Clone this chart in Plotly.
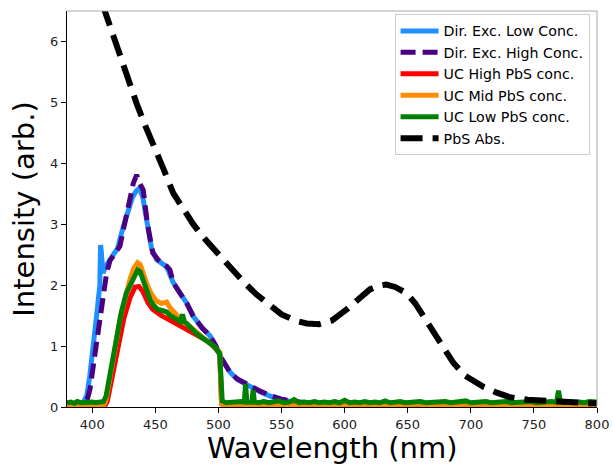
import plotly.graph_objects as go

# ---------------- data ----------------
# Direct excitation, low concentration
dir_low_wl = [380, 390, 393, 395.6, 398, 400.8, 404, 406, 406.6, 407.2, 408.5, 412, 416.7, 420, 424.6, 428, 432, 435, 437.3, 440, 443, 447, 451, 455, 459, 464, 469.5, 475, 480, 487, 493.3, 498, 501.2, 505, 509.2, 515, 525, 533, 541, 550, 560, 575, 600, 650, 700, 750, 800]
dir_low_y = [0.02, 0.03, 0.08, 0.18, 0.5, 0.95, 1.6, 2.0, 2.66, 2.55, 2.2, 2.35, 2.5, 2.6, 2.96, 3.2, 3.45, 3.55, 3.59, 3.45, 3.05, 2.6, 2.42, 2.35, 2.3, 2.05, 1.87, 1.7, 1.49, 1.3, 1.17, 1.0, 0.84, 0.7, 0.57, 0.45, 0.33, 0.25, 0.18, 0.12, 0.08, 0.05, 0.04, 0.03, 0.03, 0.02, 0.02]

# Direct excitation, high concentration
dir_high_wl = [380, 393, 396, 398.2, 401, 404.8, 408, 411.4, 414, 416.7, 419, 421.9, 424, 427.2, 430, 432.5, 435.2, 437, 440.4, 443.8, 448, 452, 456, 459, 461.6, 464.2, 469.5, 475, 480, 487, 493.3, 498, 501.2, 505, 509.2, 515, 525, 533, 541, 550, 560, 575, 600, 650, 700, 750, 800]
dir_high_y = [0.02, 0.05, 0.12, 0.29, 0.7, 1.22, 1.75, 2.2, 2.4, 2.47, 2.55, 2.64, 2.85, 3.13, 3.4, 3.67, 3.81, 3.7, 3.56, 3.0, 2.53, 2.42, 2.35, 2.31, 2.25, 2.04, 1.87, 1.7, 1.49, 1.3, 1.17, 1.0, 0.84, 0.7, 0.57, 0.46, 0.34, 0.26, 0.19, 0.13, 0.09, 0.06, 0.04, 0.03, 0.03, 0.02, 0.02]

# Upconversion, high PbS concentration
uc_high_wl = [380, 410, 412, 416, 420, 425, 430, 434, 437, 440, 444, 448, 455, 462, 470, 480, 490, 496, 501, 502.5, 505, 600, 700, 800]
uc_high_y = [0.02, 0.02, 0.1, 0.5, 0.95, 1.45, 1.8, 1.97, 1.98, 1.9, 1.72, 1.6, 1.5, 1.42, 1.35, 1.22, 1.1, 1.0, 0.88, 0.05, 0.02, 0.02, 0.02, 0.02]

# Upconversion, mid PbS concentration
uc_mid_wl = [380, 409, 411, 414, 418, 422, 426, 430, 433, 436, 438, 441, 444, 447, 451, 455, 459, 462, 466, 470, 475, 480, 486, 491, 496, 501, 502.5, 505, 600, 700, 800]
uc_mid_y = [0.02, 0.02, 0.12, 0.45, 0.95, 1.45, 1.8, 2.1, 2.28, 2.37, 2.34, 2.15, 1.98, 1.85, 1.74, 1.7, 1.72, 1.62, 1.52, 1.44, 1.36, 1.28, 1.17, 1.08, 1.0, 0.9, 0.05, 0.02, 0.02, 0.02, 0.02]

# Upconversion, low PbS concentration (noisy baseline)
uc_low_wl = [380, 383, 386, 388, 391, 394, 397, 400, 403, 406, 409, 411, 413, 415, 419, 423, 427, 430, 433, 436, 438, 440, 443, 446, 449, 452, 456, 459, 462, 466, 470, 471.5, 473, 474.5, 478, 482, 486, 490, 494, 498, 501, 502, 503, 506, 510, 514, 518, 520.5, 521.5, 522.5, 525, 526.5, 527.5, 528.5, 532, 536, 540, 544, 548, 552, 556, 560, 564, 568, 572, 576, 580, 584, 588, 592, 596, 600, 604, 608, 612, 616, 620, 624, 628, 632, 636, 640, 644, 648, 652, 656, 660, 664, 668, 672, 676, 680, 684, 688, 692, 696, 700, 704, 708, 712, 716, 720, 724, 728, 732, 736, 740, 744, 748, 752, 756, 760, 764, 768, 769.5, 771, 774, 778, 782, 786, 790, 794, 798, 800]
uc_low_y = [0.07, 0.08, 0.06, 0.09, 0.07, 0.08, 0.07, 0.08, 0.07, 0.08, 0.09, 0.18, 0.4, 0.65, 1.17, 1.55, 1.87, 2.0, 2.12, 2.25, 2.22, 2.1, 1.93, 1.75, 1.66, 1.6, 1.58, 1.56, 1.5, 1.45, 1.4, 1.52, 1.4, 1.38, 1.3, 1.22, 1.15, 1.1, 1.04, 0.96, 0.88, 0.5, 0.1, 0.07, 0.08, 0.07, 0.09, 0.08, 0.38, 0.08, 0.07, 0.08, 0.28, 0.08, 0.07, 0.09, 0.07, 0.08, 0.1, 0.07, 0.08, 0.12, 0.07, 0.08, 0.07, 0.09, 0.07, 0.08, 0.07, 0.09, 0.07, 0.11, 0.07, 0.08, 0.07, 0.09, 0.07, 0.08, 0.07, 0.1, 0.07, 0.08, 0.09, 0.07, 0.08, 0.07, 0.09, 0.07, 0.08, 0.07, 0.08, 0.09, 0.07, 0.08, 0.07, 0.1, 0.07, 0.08, 0.07, 0.09, 0.07, 0.08, 0.07, 0.09, 0.07, 0.08, 0.07, 0.08, 0.09, 0.07, 0.08, 0.07, 0.09, 0.08, 0.27, 0.08, 0.07, 0.09, 0.07, 0.08, 0.07, 0.09, 0.07, 0.08]

# PbS absorption
pbs_wl = [400, 405, 410.1, 416, 422, 428, 435.2, 442, 449.7, 457, 464.2, 472, 480, 490, 500, 510, 520, 530, 541, 550, 562, 570, 580, 590, 601.6, 610, 620, 627, 633, 640, 649, 656, 662, 670, 680, 686, 695, 710, 720, 731, 745, 763, 780, 795, 800]
pbs_y = [7.1, 6.8, 6.48, 6.1, 5.74, 5.36, 4.98, 4.62, 4.27, 3.88, 3.51, 3.24, 3.0, 2.74, 2.5, 2.27, 2.05, 1.85, 1.66, 1.52, 1.41, 1.37, 1.36, 1.42, 1.6, 1.76, 1.93, 1.99, 2.01, 1.97, 1.87, 1.7, 1.5, 1.22, 0.93, 0.73, 0.52, 0.33, 0.24, 0.16, 0.12, 0.09, 0.07, 0.06, 0.06]

series_names = ["Dir. Exc. Low Conc.", "Dir. Exc. High Conc.", "UC High PbS conc.",
                "UC Mid PbS conc.", "UC Low PbS conc.", "PbS Abs."]

x_ticks = [400, 450, 500, 550, 600, 650, 700, 750, 800]
y_ticks = [0, 1, 2, 3, 4, 5, 6]

# ---------------- figure ----------------
FONT = "DejaVu Sans"
fig = go.Figure()

fig.add_trace(go.Scatter(x=dir_low_wl, y=dir_low_y, name=series_names[0], mode="lines",
                         line=dict(color="#1E90FF", width=5)))
fig.add_trace(go.Scatter(x=dir_high_wl, y=dir_high_y, name=series_names[1], mode="lines",
                         line=dict(color="#4B0082", width=5, dash="15px,7px")))
fig.add_trace(go.Scatter(x=uc_high_wl, y=uc_high_y, name=series_names[2], mode="lines",
                         line=dict(color="#FF0000", width=5)))
fig.add_trace(go.Scatter(x=uc_mid_wl, y=uc_mid_y, name=series_names[3], mode="lines",
                         line=dict(color="#FF8C00", width=5)))
fig.add_trace(go.Scatter(x=uc_low_wl, y=uc_low_y, name=series_names[4], mode="lines",
                         line=dict(color="#008000", width=5)))
fig.add_trace(go.Scatter(x=pbs_wl, y=pbs_y, name=series_names[5], mode="lines",
                         line=dict(color="#000000", width=6, dash="22px,10px")))

axis_common = dict(showgrid=False, zeroline=False, showline=True, linecolor="black",
                   linewidth=1, ticks="outside", ticklen=5, tickwidth=1, tickcolor="black",
                   automargin=False,
                   tickfont=dict(family=FONT, size=13, color="#222"))

fig.update_layout(
    width=613, height=464,
    margin=dict(l=67, r=16, t=11, b=57),
    paper_bgcolor="white", plot_bgcolor="white",
    font=dict(family=FONT, color="black"),
    showlegend=True,
    legend=dict(x=0.986, y=0.992, xanchor="right", yanchor="top",
                bgcolor="rgba(255,255,255,0.85)", bordercolor="#cccccc", borderwidth=1,
                itemwidth=38,
                font=dict(family=FONT, size=14.2, color="black"), tracegroupgap=0),
    xaxis=dict(range=[380, 800], tickvals=x_ticks, **axis_common),
    yaxis=dict(range=[0, 6.5], tickvals=y_ticks,
               title=dict(text="Intensity (arb.)", font=dict(family=FONT, size=29, color="black"),
                          standoff=6),
               **axis_common),
    annotations=[
        dict(text="Wavelength (nm)", xref="paper", yref="paper", x=0.5, y=-0.055,
             xanchor="center", yanchor="top", showarrow=False,
             font=dict(family=FONT, size=29, color="black")),
    ],
    shapes=[
        dict(type="line", xref="paper", yref="paper", x0=0, x1=1, y0=1, y1=1,
             line=dict(color="#aaaaaa", width=1)),
        dict(type="line", xref="paper", yref="paper", x0=1, x1=1, y0=0, y1=1,
             line=dict(color="#aaaaaa", width=1)),
    ],
)

fig.write_html("out.html")
